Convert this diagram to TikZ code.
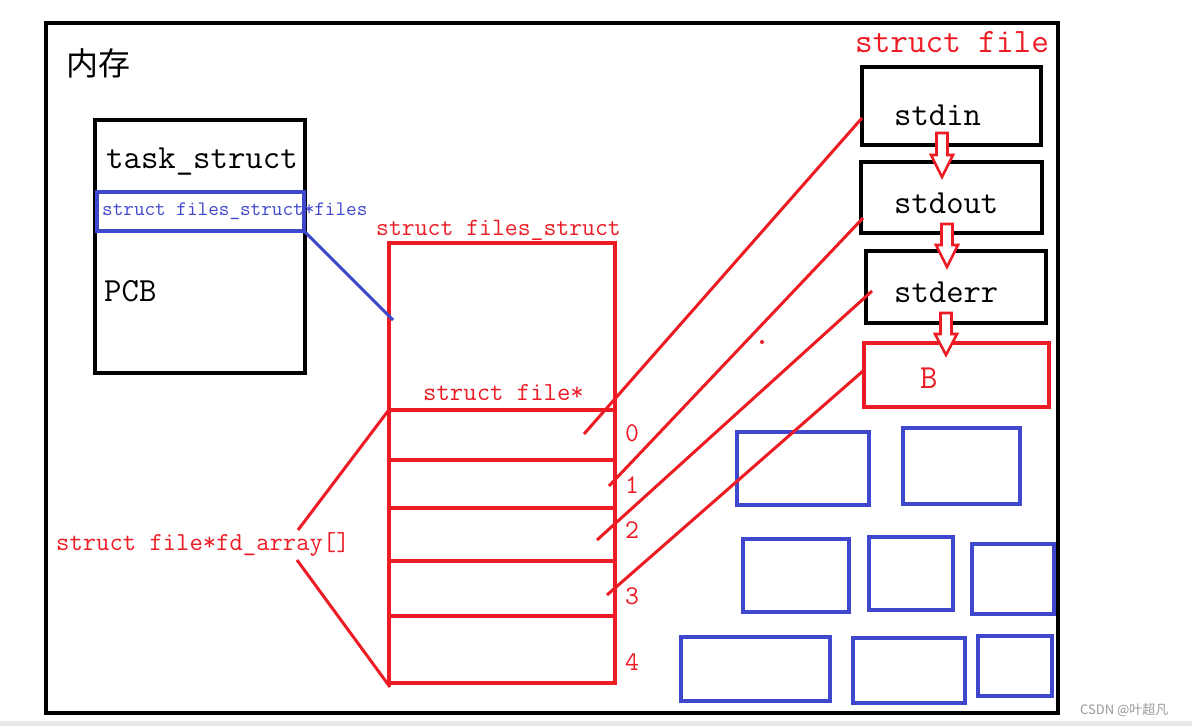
\documentclass[tikz,border=0pt]{standalone}
\usepackage{fontspec}
\newfontfamily\cjk{Noto Sans CJK SC}
\definecolor{pred}{HTML}{ED1C24}
\definecolor{pblue}{HTML}{3F48CC}
\newcommand\fsz[1]{\fontsize{#1}{#1}\selectfont}
\newcommand\hollowarrow[4]{% cx, ytop, yhead, ytip
  \draw[harrow] (#1-5.5,#2) -- (#1+5.5,#2) -- (#1+5.5,#3) -- (#1+11,#3) -- (#1,#4)
     -- (#1-11,#3) -- (#1-5.5,#3) -- cycle;}
\begin{document}
\begin{tikzpicture}[x=1pt,y=-1pt,
  blk/.style={draw=black, line width=3.6pt},
  rbox/.style={draw=pred, line width=3.4pt},
  bbox/.style={draw=pblue, line width=3.4pt},
  rline/.style={draw=pred, line width=3pt},
  bline/.style={draw=pblue, line width=3pt},
  harrow/.style={draw=pred, fill=white, line width=2.6pt, line join=miter},
  box/.style={inner sep=0pt, outer sep=0pt, anchor=north west},
  txt/.style={inner sep=0pt, anchor=base west},
  rtxt/.style={txt, text=pred, font=\ttfamily},
  ktxt/.style={txt, text=black, font=\ttfamily},
]
\useasboundingbox (0,0) rectangle (1192,726);
\fill[white] (0,0) rectangle (1192,726);
\fill[black!9] (0,721) rectangle (1192,726);
% frame
\node[box, blk, minimum width=1012pt, minimum height=690pt] (frame) at (46,23) {};
\node[txt, font=\cjk\fsz{32}] (mem) at (66,75) {内存};

% task_struct
\node[box, blk, minimum width=210pt, minimum height=253pt] (task) at (95,120) {};
\node[ktxt, font=\ttfamily\fsz{33.8}] (tasktxt) at (106,168) {task\_struct};
\node[box, bbox, minimum width=207pt, minimum height=39pt] (files) at (97,192) {};
\node[txt, text=pblue, font=\ttfamily\fsz{20.6}] (filestxt) at (102,215) {struct files\_struct*files};
\node[ktxt, font=\ttfamily\fsz{33.8}] (pcb) at (104,301) {PCB};

% files_struct
\node[rtxt, font=\ttfamily\fsz{25}] (fstitle) at (376,235) {struct files\_struct};
\node[box, rbox, minimum width=226pt, minimum height=440pt] (fs) at (389,243) {};
\node[rtxt, font=\ttfamily\fsz{26}] (fptr) at (423,400) {struct file*};
\foreach \yy in {410,460,508,561,616}{
  \draw[rbox] (389,\yy) -- (615,\yy);
}
\node[rtxt, font=\ttfamily\fsz{27}] (i0) at (625,441) {0};
\node[rtxt, font=\ttfamily\fsz{27}] (i1) at (625,493) {1};
\node[rtxt, font=\ttfamily\fsz{27}] (i2) at (625,538) {2};
\node[rtxt, font=\ttfamily\fsz{27}] (i3) at (625,604) {3};
\node[rtxt, font=\ttfamily\fsz{27}] (i4) at (625,670) {4};

\node[rtxt, font=\ttfamily\fsz{25.9}] (fd) at (56,550) {struct file*fd\_array[]};

% struct file column
\node[rtxt, font=\ttfamily\fsz{34.2}] (sftitle) at (855,52) {struct file};
\node[box, blk, minimum width=179pt, minimum height=78pt] (stdin) at (862,67) {};
\node[ktxt, font=\ttfamily\fsz{33.7}] at (894,125) {stdin};
\node[box, blk, minimum width=181pt, minimum height=71pt] (stdout) at (861,162) {};
\node[ktxt, font=\ttfamily\fsz{33.7}] at (894,213) {stdout};
\node[box, blk, minimum width=180pt, minimum height=72pt] (stderr) at (866,251) {};
\node[ktxt, font=\ttfamily\fsz{33.7}] at (894,302) {stderr};
\node[box, rbox, minimum width=185pt, minimum height=64pt] (bfile) at (864,343) {};
\node[rtxt, font=\ttfamily\fsz{33.7}] at (920,388) {B};

\hollowarrow{942}{133}{155}{177}
\hollowarrow{947}{224}{245}{267}
\hollowarrow{946}{313}{334}{355}

% blue free boxes
\node[box, bbox, minimum width=132pt, minimum height=73pt] (f1) at (737,432) {};
\node[box, bbox, minimum width=117pt, minimum height=76pt] (f2) at (903,428) {};
\node[box, bbox, minimum width=106pt, minimum height=73pt] (f3) at (743,539) {};
\node[box, bbox, minimum width=84pt, minimum height=73pt] (f4) at (869,537) {};
\node[box, bbox, minimum width=82pt, minimum height=70pt] (f5) at (972,544) {};
\node[box, bbox, minimum width=149pt, minimum height=64pt] (f6) at (681,637) {};
\node[box, bbox, minimum width=112pt, minimum height=65pt] (f7) at (853,638) {};
\node[box, bbox, minimum width=74pt, minimum height=60pt] (f8) at (978,636) {};

% connectors
\coordinate (p0) at (584,434);
\coordinate (q0) at (862,118);
\coordinate (p1) at (609,486);
\coordinate (q1) at (863,218);
\coordinate (p2) at (597,540);
\coordinate (q2) at (872,291);
\coordinate (p3) at (607,595);
\coordinate (q3) at (863,371);
\draw[rline] (p0) -- (q0);
\draw[rline] (p1) -- (q1);
\draw[rline] (p2) -- (q2);
\draw[rline] (p3) -- (q3);

\coordinate (ftail) at (304,231);
\coordinate (fhead) at (393,320);
\draw[bline] (ftail) -- (fhead);

\coordinate (a1) at (298,530);
\coordinate (b1) at (388,411);
\coordinate (a2) at (297,560);
\coordinate (b2) at (390,687);
\draw[rline] (a1) -- (b1);
\draw[rline] (a2) -- (b2);

\fill[pred] (762,342) circle (2);

\node[txt, text=black!40, font=\cjk\fsz{13}] (wm) at (1080,714) {CSDN @叶超凡};
\end{tikzpicture}
\end{document}
